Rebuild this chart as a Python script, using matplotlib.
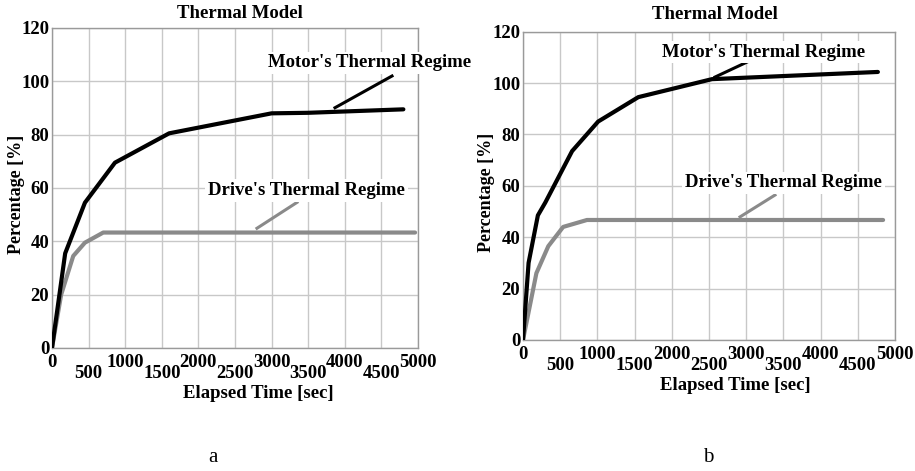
import matplotlib
matplotlib.use("Agg")
import matplotlib.pyplot as plt

# ---------------- data ----------------
title = "Thermal Model"
xlabel = "Elapsed Time [sec]"
ylabel = "Percentage [%]"
motor_label = "Motor's Thermal Regime"
drive_label = "Drive's Thermal Regime"
panel_letters = ["a", "b"]

x_major = [0, 1000, 2000, 3000, 4000, 5000]
x_minor = [500, 1500, 2500, 3500, 4500]
y_ticks = [0, 20, 40, 60, 80, 100, 120]

# panel a
a_motor_t = [0, 180, 450, 860, 1600, 3000, 3500, 4800]
a_motor_v = [0, 35.5, 54.5, 69.5, 80.5, 88.0, 88.2, 89.5]
a_drive_t = [0, 125, 290, 450, 700, 4960]
a_drive_v = [0, 20, 34.5, 39.5, 43.3, 43.3]
a_motor_lead_t = [3866, 4645]
a_motor_lead_v = [90.1, 102]
a_drive_lead_t = [2800, 3347]
a_drive_lead_v = [44.9, 54.6]
a_motor_txt = (2951, 106.9)
a_drive_txt = (2131, 59.1)

# panel b
b_motor_t = [0, 75, 200, 300, 660, 1010, 1550, 2540, 4770]
b_motor_v = [0, 30, 48.5, 53.5, 73.5, 85, 94.5, 101.5, 104.3]
b_drive_t = [0, 180, 340, 540, 860, 4840]
b_drive_v = [0, 26, 36.5, 44, 46.7, 46.7]
b_motor_lead_t = [2580, 3074]
b_motor_lead_v = [102.3, 109]
b_drive_lead_t = [2917, 3387]
b_drive_lead_v = [47.9, 56.4]
b_motor_txt = (1868, 112)
b_drive_txt = (2177, 61.1)

# ---------------- style ----------------
SERIF = ["Liberation Serif", "DejaVu Serif"]
plt.rcParams["font.family"] = SERIF
BLACK = "#000000"
GRAY = "#8a8a8a"
GRID = "#c8c8c8"
SPINE = "#9a9a9a"
W, H = 915, 471
FS = 13.5

fig = plt.figure(figsize=(W / 100, H / 100), dpi=100)

def px_axes(x0, x1, y0, y1):
    return fig.add_axes([x0 / W, 1 - y1 / H, (x1 - x0) / W, (y1 - y0) / H])

axA = px_axes(52, 418, 28, 348)
axB = px_axes(523, 895, 31.6, 340)

panels = [
    (axA, a_motor_t, a_motor_v, a_drive_t, a_drive_v,
     a_motor_lead_t, a_motor_lead_v, a_drive_lead_t, a_drive_lead_v,
     a_motor_txt, a_drive_txt, (0.514, 1.044), (0.563, -0.142), (-0.098, 0.48)),
    (axB, b_motor_t, b_motor_v, b_drive_t, b_drive_v,
     b_motor_lead_t, b_motor_lead_v, b_drive_lead_t, b_drive_lead_v,
     b_motor_txt, b_drive_txt, (0.516, 1.054), (0.57, -0.148), (-0.097, 0.48)),
]

for (ax, mt, mv, dt, dv, mlt, mlv, dlt, dlv, mtxt, dtxt,
     tpos, xlpos, ylpos) in panels:
    ax.set_xlim(0, 5000)
    ax.set_ylim(0, 120)
    ax.set_xticks(x_major)
    ax.set_xticks(x_minor, minor=True)
    ax.set_xticklabels([str(v) for v in x_major])
    ax.set_xticklabels([str(v) for v in x_minor], minor=True)
    ax.set_yticks(y_ticks)
    ax.set_yticklabels([str(v) for v in y_ticks])
    ax.tick_params(axis="x", which="major", length=0, pad=4,
                   labelsize=FS)
    ax.tick_params(axis="x", which="minor", length=0, pad=12.5,
                   labelsize=FS)
    ax.tick_params(axis="y", length=0, pad=2, labelsize=FS)
    for lab in ax.get_xticklabels(which="both") + ax.get_yticklabels():
        lab.set_fontweight("bold")
    ax.grid(True, which="both", color=GRID, lw=1.0)
    ax.set_axisbelow(True)
    for s in ax.spines.values():
        s.set_color(SPINE)
        s.set_linewidth(1.0)

    ax.plot(mt, mv, color=BLACK, lw=3.0, solid_joinstyle="round",
            solid_capstyle="round", zorder=4)
    ax.plot(dt, dv, color=GRAY, lw=3.0, solid_joinstyle="round",
            solid_capstyle="round", zorder=3)
    ax.plot(mlt, mlv, color=BLACK, lw=2.2, zorder=4, clip_on=False)
    ax.plot(dlt, dlv, color=GRAY, lw=2.2, zorder=3, clip_on=False)

    bbox = dict(boxstyle="square,pad=0.15", fc="white", ec="none")
    ax.text(mtxt[0], mtxt[1], motor_label, ha="left", va="center",
            fontsize=FS, fontweight="bold", bbox=bbox, clip_on=False,
            zorder=5)
    ax.text(dtxt[0], dtxt[1], drive_label, ha="left", va="center",
            fontsize=FS, fontweight="bold", bbox=bbox, clip_on=False,
            zorder=5)

    ax.text(tpos[0], tpos[1], title, transform=ax.transAxes,
            ha="center", va="center", fontsize=FS, fontweight="bold")
    ax.set_xlabel(xlabel, fontsize=FS, fontweight="bold")
    ax.xaxis.set_label_coords(*xlpos)
    ax.xaxis.label.set_va("center")
    ax.set_ylabel(ylabel, fontsize=13, fontweight="bold")
    ax.yaxis.set_label_coords(*ylpos)
    ax.yaxis.label.set_va("center")

fig.text(213 / W, 1 - 457 / H, panel_letters[0], ha="center", va="center",
         fontsize=15)
fig.text(708 / W, 1 - 457 / H, panel_letters[1], ha="center", va="center",
         fontsize=15)

fig.savefig("out.png", dpi=100, facecolor="white")
